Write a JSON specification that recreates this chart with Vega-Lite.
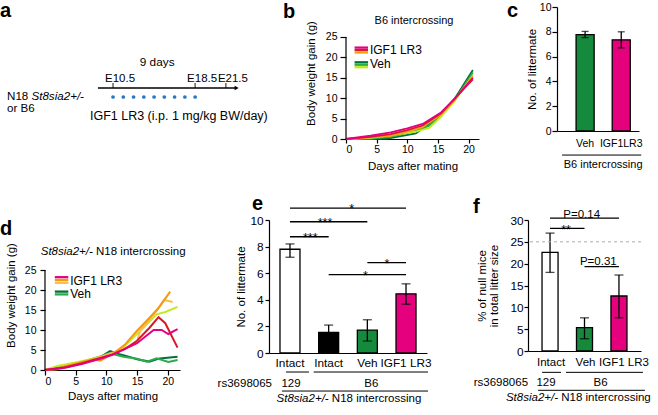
{
"$schema":"https://vega.github.io/schema/vega-lite/v6.json",
"padding":{"left":0,"top":0,"right":0,"bottom":0},
"background":"white",
"config":{
 "font":"Liberation Sans",
 "view":{"stroke":null},
 "axis":{"grid":false,"domainColor":"#000","domainWidth":1.2,"tickColor":"#000","tickWidth":1.2,"labelColor":"#000","titleColor":"#000","titleFontWeight":"normal","labelFont":"Liberation Sans","titleFont":"Liberation Sans","titleFontSize":11.5,"labelFontSize":10.5,"tickSize":5,"labelPadding":2,"labelOverlap":false},
 "title":{"fontSize":20,"fontWeight":"bold","anchor":"start","frame":"group","color":"#000","font":"Liberation Sans"},
 "text":{"color":"#000","font":"Liberation Sans"}
},
"datasets":{
 "one":[{"n":1}],
 "a_marks":[{"label":"E10.5","day":10.5},{"label":"E18.5","day":18.5},{"label":"E21.5","day":21.5}],
 "a_dots":[{"day":10.5},{"day":11.5},{"day":12.5},{"day":13.5},{"day":14.5},{"day":15.5},{"day":16.5},{"day":17.5},{"day":18.5}],
 "b_lines":[
  {"mouse":"V1","day":0,"gain":0},{"mouse":"V1","day":4,"gain":0},{"mouse":"V1","day":6.8,"gain":0.1},{"mouse":"V1","day":11.4,"gain":1.4},{"mouse":"V1","day":13.3,"gain":3.4},{"mouse":"V1","day":15.5,"gain":6.1},{"mouse":"V1","day":17.7,"gain":9.8},{"mouse":"V1","day":20.7,"gain":16.9},
  {"mouse":"V2","day":0,"gain":0},{"mouse":"V2","day":4,"gain":0.1},{"mouse":"V2","day":7.3,"gain":0.5},{"mouse":"V2","day":11.4,"gain":2.0},{"mouse":"V2","day":13.5,"gain":3.2},{"mouse":"V2","day":15.5,"gain":5.9},{"mouse":"V2","day":17.7,"gain":9.5},{"mouse":"V2","day":20.7,"gain":16.3},
  {"mouse":"V3","day":0,"gain":0},{"mouse":"V3","day":4,"gain":0.3},{"mouse":"V3","day":7.3,"gain":0.9},{"mouse":"V3","day":11.4,"gain":1.8},{"mouse":"V3","day":13.6,"gain":2.7},{"mouse":"V3","day":15.5,"gain":5.4},{"mouse":"V3","day":17.7,"gain":9.2},{"mouse":"V3","day":20.7,"gain":15.6},
  {"mouse":"I3","day":0,"gain":0},{"mouse":"I3","day":4,"gain":0.4},{"mouse":"I3","day":7.3,"gain":0.8},{"mouse":"I3","day":10,"gain":1.8},{"mouse":"I3","day":12.5,"gain":2.9},{"mouse":"I3","day":15.5,"gain":6.0},{"mouse":"I3","day":17.7,"gain":9.6},{"mouse":"I3","day":20.7,"gain":15.4},
  {"mouse":"I2","day":0,"gain":0},{"mouse":"I2","day":4,"gain":0.5},{"mouse":"I2","day":7.3,"gain":1.2},{"mouse":"I2","day":10,"gain":2.2},{"mouse":"I2","day":12.5,"gain":3.3},{"mouse":"I2","day":15.5,"gain":6.3},{"mouse":"I2","day":17.7,"gain":9.9},{"mouse":"I2","day":20.7,"gain":14.6},
  {"mouse":"I1","day":0,"gain":0},{"mouse":"I1","day":4,"gain":0.8},{"mouse":"I1","day":7.3,"gain":1.6},{"mouse":"I1","day":10,"gain":2.6},{"mouse":"I1","day":12.5,"gain":3.7},{"mouse":"I1","day":15.5,"gain":6.5},{"mouse":"I1","day":17.7,"gain":9.8},{"mouse":"I1","day":20.7,"gain":15.0}
 ],
 "d_lines":[
  {"mouse":"V1","day":0,"gain":0},{"mouse":"V1","day":3,"gain":0.6},{"mouse":"V1","day":6,"gain":1.8},{"mouse":"V1","day":9,"gain":3.2},{"mouse":"V1","day":10.6,"gain":4.7},{"mouse":"V1","day":12,"gain":4.0},{"mouse":"V1","day":13.5,"gain":3.4},{"mouse":"V1","day":15,"gain":2.7},{"mouse":"V1","day":17,"gain":2.1},{"mouse":"V1","day":18.7,"gain":2.9},{"mouse":"V1","day":21.6,"gain":3.3},
  {"mouse":"V2","day":0,"gain":0},{"mouse":"V2","day":3,"gain":0.8},{"mouse":"V2","day":6,"gain":2.0},{"mouse":"V2","day":9,"gain":3.4},{"mouse":"V2","day":10.5,"gain":4.2},{"mouse":"V2","day":12.8,"gain":3.3},{"mouse":"V2","day":15,"gain":2.8},{"mouse":"V2","day":16.6,"gain":2.1},{"mouse":"V2","day":18.2,"gain":2.9},{"mouse":"V2","day":20.1,"gain":2.0},{"mouse":"V2","day":21.6,"gain":2.5},
  {"mouse":"V3","day":0,"gain":0},{"mouse":"V3","day":2,"gain":1.0},{"mouse":"V3","day":5,"gain":1.9},{"mouse":"V3","day":8,"gain":2.9},{"mouse":"V3","day":10,"gain":3.6},{"mouse":"V3","day":12,"gain":4.6},{"mouse":"V3","day":14,"gain":7.5},{"mouse":"V3","day":16,"gain":10.5},{"mouse":"V3","day":18.2,"gain":13.9},{"mouse":"V3","day":19.6,"gain":14.5},{"mouse":"V3","day":21.6,"gain":15.8},
  {"mouse":"I4","day":0,"gain":0},{"mouse":"I4","day":2,"gain":0.2},{"mouse":"I4","day":4,"gain":0.8},{"mouse":"I4","day":6,"gain":1.8},{"mouse":"I4","day":8,"gain":2.8},{"mouse":"I4","day":10,"gain":3.8},{"mouse":"I4","day":12,"gain":4.8},{"mouse":"I4","day":14,"gain":6.0},{"mouse":"I4","day":15,"gain":7.0},{"mouse":"I4","day":15.5,"gain":9.8},{"mouse":"I4","day":17.9,"gain":14.2},{"mouse":"I4","day":19.4,"gain":17.5},{"mouse":"I4","day":20.8,"gain":17.0},
  {"mouse":"I3","day":0,"gain":0},{"mouse":"I3","day":2,"gain":0.4},{"mouse":"I3","day":4,"gain":1.2},{"mouse":"I3","day":6,"gain":2.0},{"mouse":"I3","day":8,"gain":2.7},{"mouse":"I3","day":9,"gain":2.3},{"mouse":"I3","day":11,"gain":4.0},{"mouse":"I3","day":13,"gain":6.3},{"mouse":"I3","day":15,"gain":9.8},{"mouse":"I3","day":17,"gain":13.0},{"mouse":"I3","day":18.5,"gain":15.5},{"mouse":"I3","day":20.4,"gain":19.6},
  {"mouse":"I2","day":0,"gain":0},{"mouse":"I2","day":3,"gain":0.6},{"mouse":"I2","day":6,"gain":1.7},{"mouse":"I2","day":9,"gain":3.0},{"mouse":"I2","day":11,"gain":3.9},{"mouse":"I2","day":13,"gain":5.2},{"mouse":"I2","day":15,"gain":7.3},{"mouse":"I2","day":17,"gain":10.5},{"mouse":"I2","day":18.5,"gain":13.2},{"mouse":"I2","day":19.6,"gain":11.7},{"mouse":"I2","day":21.6,"gain":5.6},
  {"mouse":"I1","day":0,"gain":0},{"mouse":"I1","day":3,"gain":0.5},{"mouse":"I1","day":6,"gain":1.5},{"mouse":"I1","day":9,"gain":2.8},{"mouse":"I1","day":11,"gain":3.8},{"mouse":"I1","day":13,"gain":5.3},{"mouse":"I1","day":15,"gain":6.7},{"mouse":"I1","day":17.7,"gain":10.0},{"mouse":"I1","day":19,"gain":10.0},{"mouse":"I1","day":20.1,"gain":9.0},{"mouse":"I1","day":21.6,"gain":10.2}
 ],
 "c_bars":[{"cond":"Veh","mean":7.78,"lo":7.53,"hi":8.03},{"cond":"IGF1LR3","mean":7.35,"lo":6.7,"hi":8.0}],
 "e_bars":[{"cond":"Intact 129","mean":7.8,"lo":7.2,"hi":8.2},{"cond":"Intact B6","mean":1.55,"lo":0.9,"hi":2.1},{"cond":"Veh","mean":1.72,"lo":0.9,"hi":2.5},{"cond":"IGF1 LR3","mean":4.45,"lo":3.67,"hi":5.2}],
 "f_bars":[{"cond":"Intact","mean":22.6,"lo":18.0,"hi":27.0},{"cond":"Veh","mean":5.35,"lo":2.8,"hi":7.6},{"cond":"IGF1 LR3","mean":12.6,"lo":7.6,"hi":17.4}],
 "e_sig":[{"from":"Intact 129","to":"IGF1 LR3","h":10.9},{"from":"Intact 129","to":"Veh","h":9.87},{"from":"Intact 129","to":"Intact B6","h":8.74},{"from":"Veh","to":"IGF1 LR3","h":6.8},{"from":"Intact B6","to":"IGF1 LR3","h":5.9}],
 "f_sig":[{"from":"Intact","to":"IGF1 LR3","h":30.45},{"from":"Intact","to":"Veh","h":28.1},{"from":"Veh","to":"IGF1 LR3","h":19.3}]
},
"spacing":22,
"resolve":{"scale":{"x":"independent","y":"independent","color":"independent"},"axis":{"x":"independent","y":"independent"}},
"vconcat":[
 {"spacing":6,"resolve":{"scale":{"x":"independent","y":"independent","color":"independent"},"axis":{"x":"independent","y":"independent"}},"hconcat":[
  {"width":232,"height":116,
   "title":{"text":"a","dx":-45,"offset":-13.5},
   "layer":[
    {"data":{"name":"one"},"mark":{"type":"rule","color":"#000","strokeWidth":1.3},"encoding":{"x":{"datum":9.03,"type":"quantitative","scale":{"domain":[3.87,26.48],"nice":false,"zero":false},"axis":null},"x2":{"datum":22.5},"y":{"datum":3.5,"type":"quantitative","scale":{"domain":[0,11.6],"nice":false},"axis":null}}},
    {"data":{"name":"one"},"mark":{"type":"point","shape":"triangle-right","filled":true,"color":"#000","size":22,"opacity":1},"encoding":{"x":{"datum":22.55,"type":"quantitative","axis":null},"y":{"datum":3.5,"type":"quantitative","axis":null}}},
    {"data":{"name":"a_marks"},"mark":{"type":"tick","orient":"vertical","color":"#000","thickness":1.3,"size":5},"encoding":{"x":{"field":"day","type":"quantitative","axis":null},"y":{"datum":3.75,"type":"quantitative","axis":null}}},
    {"data":{"name":"a_marks"},"mark":{"type":"text","align":"left","dx":-8,"baseline":"middle","fontSize":11.5},"encoding":{"x":{"field":"day","type":"quantitative","axis":null},"y":{"datum":4.45,"type":"quantitative","axis":null},"text":{"field":"label"}}},
    {"data":{"name":"a_dots"},"mark":{"type":"point","filled":true,"color":"#2a78c2","size":14,"opacity":1},"encoding":{"x":{"field":"day","type":"quantitative","axis":null},"y":{"datum":2.6,"type":"quantitative","axis":null}}},
    {"data":{"name":"one"},"mark":{"type":"text","text":"9 days","align":"center","baseline":"middle","fontSize":11.8},"encoding":{"x":{"datum":14.8,"type":"quantitative","axis":null},"y":{"datum":6.1,"type":"quantitative","axis":null}}},
    {"data":{"name":"one"},"mark":{"type":"text","text":"N18","align":"left","baseline":"middle","fontSize":11.6},"encoding":{"x":{"datum":0.17,"type":"quantitative","axis":null},"y":{"datum":2.57,"type":"quantitative","axis":null}}},
    {"data":{"name":"one"},"mark":{"type":"text","text":"St8sia2+/-","fontStyle":"italic","align":"left","baseline":"middle","fontSize":11.6},"encoding":{"x":{"datum":2.55,"type":"quantitative","axis":null},"y":{"datum":2.57,"type":"quantitative","axis":null}}},
    {"data":{"name":"one"},"mark":{"type":"text","text":"or B6","align":"left","baseline":"middle","fontSize":11.6},"encoding":{"x":{"datum":0.17,"type":"quantitative","axis":null},"y":{"datum":1.37,"type":"quantitative","axis":null}}},
    {"data":{"name":"one"},"mark":{"type":"text","text":"IGF1 LR3 (i.p. 1 mg/kg BW/day)","align":"left","baseline":"middle","fontSize":12.5},"encoding":{"x":{"datum":8.25,"type":"quantitative","axis":null},"y":{"datum":0.7,"type":"quantitative","axis":null}}}
   ]},
  {"spacing":28,"resolve":{"scale":{"x":"independent","y":"independent","color":"independent"},"axis":{"x":"independent","y":"independent"}},"hconcat":[
   {"width":133,"height":132,
    "title":{"text":"b","dx":-63,"offset":-14.5},
    "layer":[
     {"data":{"name":"b_lines"},"mark":{"type":"line","strokeWidth":1.8},
      "encoding":{
       "x":{"field":"day","type":"quantitative","scale":{"domain":[0,21.7],"nice":false,"zero":false},"axis":{"values":[0,5,10,15,20],"tickCount":20,"format":"d","title":"Days after mating","tickSize":4,"labelPadding":1,"titlePadding":6}},
       "y":{"field":"gain","type":"quantitative","scale":{"domain":[0,32.35],"nice":false},"axis":{"values":[0,5,10,15,20,25],"tickCount":20,"format":"d","domain":false,"title":"Body weight gain (g)","tickSize":6,"labelPadding":3,"titlePadding":9}},
       "color":{"field":"mouse","type":"nominal","scale":{"domain":["V1","V2","V3","I3","I2","I1"],"range":["#00713a","#2bab4a","#c4ea1f","#f5a00f","#d7192d","#e5007e"]},"legend":null}}},
     {"data":{"name":"one"},"mark":{"type":"rule","color":"#000","strokeWidth":1.2},"encoding":{"x":{"datum":0,"type":"quantitative"},"y":{"datum":0,"type":"quantitative"},"y2":{"datum":25}}},
     {"data":{"name":"one"},"mark":{"type":"text","text":"B6 intercrossing","align":"center","baseline":"middle","fontSize":11},"encoding":{"x":{"datum":11.1,"type":"quantitative"},"y":{"datum":28.8,"type":"quantitative"}}},
     {"data":{"name":"one"},"mark":{"type":"rule","color":"#e5007e","strokeWidth":2.3},"encoding":{"x":{"datum":1.4,"type":"quantitative"},"x2":{"datum":3.6},"y":{"datum":22.4,"type":"quantitative"}}},
     {"data":{"name":"one"},"mark":{"type":"rule","color":"#d7192d","strokeWidth":2.3},"encoding":{"x":{"datum":1.4,"type":"quantitative"},"x2":{"datum":3.6},"y":{"datum":21.8,"type":"quantitative"}}},
     {"data":{"name":"one"},"mark":{"type":"rule","color":"#f5a00f","strokeWidth":2.3},"encoding":{"x":{"datum":1.4,"type":"quantitative"},"x2":{"datum":3.6},"y":{"datum":21.2,"type":"quantitative"}}},
     {"data":{"name":"one"},"mark":{"type":"rule","color":"#00713a","strokeWidth":2.3},"encoding":{"x":{"datum":1.4,"type":"quantitative"},"x2":{"datum":3.6},"y":{"datum":18.8,"type":"quantitative"}}},
     {"data":{"name":"one"},"mark":{"type":"rule","color":"#2bab4a","strokeWidth":2.3},"encoding":{"x":{"datum":1.4,"type":"quantitative"},"x2":{"datum":3.6},"y":{"datum":18.2,"type":"quantitative"}}},
     {"data":{"name":"one"},"mark":{"type":"rule","color":"#c4ea1f","strokeWidth":2.3},"encoding":{"x":{"datum":1.4,"type":"quantitative"},"x2":{"datum":3.6},"y":{"datum":17.6,"type":"quantitative"}}},
     {"data":{"name":"one"},"mark":{"type":"text","text":"IGF1 LR3","align":"left","baseline":"middle","fontSize":12},"encoding":{"x":{"datum":3.9,"type":"quantitative"},"y":{"datum":21.8,"type":"quantitative"}}},
     {"data":{"name":"one"},"mark":{"type":"text","text":"Veh","align":"left","baseline":"middle","fontSize":12},"encoding":{"x":{"datum":3.9,"type":"quantitative"},"y":{"datum":18.4,"type":"quantitative"}}}
    ]},
   {"width":82,"height":124,
    "title":{"text":"c","dx":-50,"offset":-19},
    "layer":[
     {"data":{"name":"c_bars"},"mark":{"type":"bar","stroke":"#000","strokeWidth":1.3},
      "encoding":{
       "x":{"field":"cond","type":"nominal","scale":{"domain":["Veh","IGF1LR3"],"paddingInner":0.5,"paddingOuter":0.385,"align":0.686},"axis":{"title":null,"labelAngle":0,"ticks":false,"tickSize":0,"labelPadding":7,"labelFontSize":10.5}},
       "y":{"field":"mean","type":"quantitative","scale":{"domain":[0,10],"nice":false},"axis":{"values":[0,2,4,6,8,10],"tickCount":20,"format":"d","title":"No. of littermate","tickSize":5,"labelPadding":1,"titlePadding":2}},
       "color":{"field":"cond","type":"nominal","scale":{"domain":["Veh","IGF1LR3"],"range":["#158a3c","#e5007e"]},"legend":null}}},
     {"data":{"name":"c_bars"},"mark":{"type":"rule","color":"#000","strokeWidth":1.3},"encoding":{"x":{"field":"cond","type":"nominal"},"y":{"field":"lo","type":"quantitative"},"y2":{"field":"hi"}}},
     {"data":{"name":"c_bars"},"mark":{"type":"tick","color":"#000","thickness":1.3,"size":7},"encoding":{"x":{"field":"cond","type":"nominal"},"y":{"field":"hi","type":"quantitative"}}},
     {"data":{"name":"c_bars"},"mark":{"type":"tick","color":"#000","thickness":1.3,"size":7},"encoding":{"x":{"field":"cond","type":"nominal"},"y":{"field":"lo","type":"quantitative"}}},
     {"data":{"name":"one"},"mark":{"type":"rule","color":"#000","strokeWidth":1,"xOffset":-23,"x2Offset":20},"encoding":{"x":{"datum":"Veh","type":"nominal"},"x2":{"datum":"IGF1LR3"},"y":{"datum":-1.94,"type":"quantitative"}}},
     {"data":{"name":"one"},"mark":{"type":"text","text":"B6 intercrossing","align":"center","baseline":"middle","fontSize":11,"dx":18},"encoding":{"x":{"datum":"Veh","type":"nominal"},"y":{"datum":-2.74,"type":"quantitative"}}}
    ]}
  ]}
 ]},
 {"spacing":31,"resolve":{"scale":{"x":"independent","y":"independent","color":"independent"},"axis":{"x":"independent","y":"independent"}},"hconcat":[
  {"width":135,"height":150,
   "title":{"text":"d","dx":-45,"offset":-18.5},
   "layer":[
    {"data":{"name":"d_lines"},"mark":{"type":"line","strokeWidth":2},
     "encoding":{
      "x":{"field":"day","type":"quantitative","scale":{"domain":[0,22],"nice":false,"zero":false},"axis":{"values":[0,5,10,15,20],"tickCount":20,"format":"d","title":"Days after mating","tickSize":5,"labelPadding":1,"titlePadding":4}},
      "y":{"field":"gain","type":"quantitative","scale":{"domain":[0,37.5],"nice":false},"axis":{"values":[0,5,10,15,20,25],"tickCount":20,"format":"d","domain":false,"title":"Body weight gain (g)","tickSize":5,"labelPadding":4,"titlePadding":8}},
      "color":{"field":"mouse","type":"nominal","scale":{"domain":["V1","V2","V3","I4","I3","I2","I1"],"range":["#00713a","#2bab4a","#c4ea1f","#f9c04a","#f39a12","#d7192d","#e5007e"]},"legend":null}}},
    {"data":{"name":"one"},"mark":{"type":"rule","color":"#000","strokeWidth":1.2},"encoding":{"x":{"datum":0,"type":"quantitative"},"y":{"datum":0,"type":"quantitative"},"y2":{"datum":25}}},
    {"data":{"name":"one"},"mark":{"type":"text","text":"St8sia2+/-","fontStyle":"italic","align":"right","baseline":"middle","fontSize":11.5},"encoding":{"x":{"datum":7.8,"type":"quantitative"},"y":{"datum":29.6,"type":"quantitative"}}},
    {"data":{"name":"one"},"mark":{"type":"text","text":"N18 intercrossing","align":"left","baseline":"middle","fontSize":11.5,"dx":3.2},"encoding":{"x":{"datum":7.8,"type":"quantitative"},"y":{"datum":29.6,"type":"quantitative"}}},
    {"data":{"name":"one"},"mark":{"type":"rule","color":"#e5007e","strokeWidth":2.3},"encoding":{"x":{"datum":1.6,"type":"quantitative"},"x2":{"datum":3.8},"y":{"datum":23.2,"type":"quantitative"}}},
    {"data":{"name":"one"},"mark":{"type":"rule","color":"#f39a12","strokeWidth":2.3},"encoding":{"x":{"datum":1.6,"type":"quantitative"},"x2":{"datum":3.8},"y":{"datum":22.5,"type":"quantitative"}}},
    {"data":{"name":"one"},"mark":{"type":"rule","color":"#f9c04a","strokeWidth":2.3},"encoding":{"x":{"datum":1.6,"type":"quantitative"},"x2":{"datum":3.8},"y":{"datum":21.8,"type":"quantitative"}}},
    {"data":{"name":"one"},"mark":{"type":"rule","color":"#00713a","strokeWidth":2.3},"encoding":{"x":{"datum":1.6,"type":"quantitative"},"x2":{"datum":3.8},"y":{"datum":19.6,"type":"quantitative"}}},
    {"data":{"name":"one"},"mark":{"type":"rule","color":"#2bab4a","strokeWidth":2.3},"encoding":{"x":{"datum":1.6,"type":"quantitative"},"x2":{"datum":3.8},"y":{"datum":18.9,"type":"quantitative"}}},
    {"data":{"name":"one"},"mark":{"type":"text","text":"IGF1 LR3","align":"left","baseline":"middle","fontSize":12},"encoding":{"x":{"datum":4.1,"type":"quantitative"},"y":{"datum":22.2,"type":"quantitative"}}},
    {"data":{"name":"one"},"mark":{"type":"text","text":"Veh","align":"left","baseline":"middle","fontSize":12},"encoding":{"x":{"datum":4.1,"type":"quantitative"},"y":{"datum":19.0,"type":"quantitative"}}}
   ]},
  {"spacing":41,"resolve":{"scale":{"x":"independent","y":"independent","color":"independent"},"axis":{"x":"independent","y":"independent"}},"hconcat":[
   {"width":158,"height":133,
    "title":{"text":"e","dx":-17,"offset":-11},
    "layer":[
     {"data":{"name":"e_bars"},"mark":{"type":"bar","stroke":"#000","strokeWidth":1.3},
      "encoding":{
       "x":{"field":"cond","type":"nominal","scale":{"domain":["Intact 129","Intact B6","Veh","IGF1 LR3"],"paddingInner":0.483,"paddingOuter":0.284},"axis":{"title":null,"labelAngle":0,"ticks":false,"tickSize":0,"labelPadding":4,"labelFontSize":11.8,"labelExpr":"indexof(datum.value,'Intact')==0 ? 'Intact' : datum.value"}},
       "y":{"field":"mean","type":"quantitative","scale":{"domain":[0,10],"nice":false},"axis":{"values":[0,2,4,6,8,10],"tickCount":20,"format":"d","title":"No. of littermate","tickSize":4,"labelPadding":2,"titlePadding":3,"labelFontSize":11.8}},
       "color":{"field":"cond","type":"nominal","scale":{"domain":["Intact 129","Intact B6","Veh","IGF1 LR3"],"range":["#ffffff","#000000","#158a3c","#e5007e"]},"legend":null}}},
     {"data":{"name":"e_bars"},"mark":{"type":"rule","color":"#000","strokeWidth":1.3},"encoding":{"x":{"field":"cond","type":"nominal"},"y":{"field":"lo","type":"quantitative"},"y2":{"field":"hi"}}},
     {"data":{"name":"e_bars"},"mark":{"type":"tick","color":"#000","thickness":1.3,"size":9},"encoding":{"x":{"field":"cond","type":"nominal"},"y":{"field":"hi","type":"quantitative"}}},
     {"data":{"name":"e_bars"},"mark":{"type":"tick","color":"#000","thickness":1.3,"size":9},"encoding":{"x":{"field":"cond","type":"nominal"},"y":{"field":"lo","type":"quantitative"}}},
     {"data":{"name":"e_sig"},"mark":{"type":"rule","color":"#000","strokeWidth":1.3},"encoding":{"x":{"field":"from","type":"nominal"},"x2":{"field":"to"},"y":{"field":"h","type":"quantitative"}}},
     {"data":{"name":"one"},"mark":{"type":"text","text":"*","align":"center","fontSize":12.5,"dx":-15.6,"dy":1},"encoding":{"x":{"datum":"Veh","type":"nominal"},"y":{"datum":10.9,"type":"quantitative"}}},
     {"data":{"name":"one"},"mark":{"type":"text","text":"***","align":"center","fontSize":12.5,"dx":-3.7,"dy":1},"encoding":{"x":{"datum":"Intact B6","type":"nominal"},"y":{"datum":9.87,"type":"quantitative"}}},
     {"data":{"name":"one"},"mark":{"type":"text","text":"***","align":"center","fontSize":12.5,"dx":20.3,"dy":1},"encoding":{"x":{"datum":"Intact 129","type":"nominal"},"y":{"datum":8.74,"type":"quantitative"}}},
     {"data":{"name":"one"},"mark":{"type":"text","text":"*","align":"center","fontSize":12.5,"dx":19.7,"dy":1},"encoding":{"x":{"datum":"Veh","type":"nominal"},"y":{"datum":6.8,"type":"quantitative"}}},
     {"data":{"name":"one"},"mark":{"type":"text","text":"*","align":"center","fontSize":12.5,"dx":-2,"dy":1},"encoding":{"x":{"datum":"Veh","type":"nominal"},"y":{"datum":5.9,"type":"quantitative"}}},
     {"data":{"name":"one"},"mark":{"type":"rule","color":"#000","strokeWidth":1,"xOffset":-4,"x2Offset":19},"encoding":{"x":{"datum":"Intact 129","type":"nominal"},"x2":{"datum":"Intact 129"},"y":{"datum":-1.43,"type":"quantitative"}}},
     {"data":{"name":"one"},"mark":{"type":"rule","color":"#000","strokeWidth":1,"xOffset":-15,"x2Offset":22},"encoding":{"x":{"datum":"Intact B6","type":"nominal"},"x2":{"datum":"IGF1 LR3"},"y":{"datum":-1.43,"type":"quantitative"}}},
     {"data":{"name":"one"},"mark":{"type":"rule","color":"#000","strokeWidth":1,"xOffset":-8,"x2Offset":22},"encoding":{"x":{"datum":"Intact 129","type":"nominal"},"x2":{"datum":"IGF1 LR3"},"y":{"datum":-2.86,"type":"quantitative"}}},
     {"data":{"name":"one"},"mark":{"type":"text","text":"rs3698065","align":"right","baseline":"middle","fontSize":11.5,"dx":-18},"encoding":{"x":{"datum":"Intact 129","type":"nominal"},"y":{"datum":-2.3,"type":"quantitative"}}},
     {"data":{"name":"one"},"mark":{"type":"text","text":"129","align":"center","baseline":"middle","fontSize":11.5,"dx":1},"encoding":{"x":{"datum":"Intact 129","type":"nominal"},"y":{"datum":-2.3,"type":"quantitative"}}},
     {"data":{"name":"one"},"mark":{"type":"text","text":"B6","align":"center","baseline":"middle","fontSize":11.5,"dx":4},"encoding":{"x":{"datum":"Veh","type":"nominal"},"y":{"datum":-2.3,"type":"quantitative"}}},
     {"data":{"name":"one"},"mark":{"type":"text","text":"St8sia2+/-","fontStyle":"italic","align":"right","baseline":"middle","fontSize":11.5},"encoding":{"x":{"datum":"Intact B6","type":"nominal"},"y":{"datum":-3.47,"type":"quantitative"}}},
     {"data":{"name":"one"},"mark":{"type":"text","text":"N18 intercrossing","align":"left","baseline":"middle","fontSize":11.5,"dx":3.2},"encoding":{"x":{"datum":"Intact B6","type":"nominal"},"y":{"datum":-3.47,"type":"quantitative"}}}
    ]},
   {"width":113,"height":131,
    "title":{"text":"f","dx":-55,"offset":-8},
    "layer":[
     {"data":{"name":"f_bars"},"mark":{"type":"bar","stroke":"#000","strokeWidth":1.3},
      "encoding":{
       "x":{"field":"cond","type":"nominal","scale":{"domain":["Intact","Veh","IGF1 LR3"],"paddingInner":0.535,"paddingOuter":0.407},"axis":{"title":null,"labelAngle":0,"ticks":false,"tickSize":0,"labelPadding":5,"labelFontSize":11.5,"labelOffset":{"condition":{"test":"datum.value == 'IGF1 LR3'","value":5},"value":1}}},
       "y":{"field":"mean","type":"quantitative","scale":{"domain":[0,30],"nice":false},"axis":{"values":[0,5,10,15,20,25,30],"tickCount":20,"format":"d","title":["% of null mice","in total litter size"],"titleLineHeight":12,"tickSize":4,"labelPadding":1,"titlePadding":10,"labelFontSize":11.8}},
       "color":{"field":"cond","type":"nominal","scale":{"domain":["Intact","Veh","IGF1 LR3"],"range":["#ffffff","#158a3c","#e5007e"]},"legend":null}}},
     {"data":{"name":"f_bars"},"mark":{"type":"rule","color":"#000","strokeWidth":1.3},"encoding":{"x":{"field":"cond","type":"nominal"},"y":{"field":"lo","type":"quantitative"},"y2":{"field":"hi"}}},
     {"data":{"name":"f_bars"},"mark":{"type":"tick","color":"#000","thickness":1.3,"size":9},"encoding":{"x":{"field":"cond","type":"nominal"},"y":{"field":"hi","type":"quantitative"}}},
     {"data":{"name":"f_bars"},"mark":{"type":"tick","color":"#000","thickness":1.3,"size":9},"encoding":{"x":{"field":"cond","type":"nominal"},"y":{"field":"lo","type":"quantitative"}}},
     {"data":{"name":"one"},"mark":{"type":"rule","color":"#aaaaaa","strokeWidth":1,"strokeDash":[3,3]},"encoding":{"y":{"datum":25,"type":"quantitative"}}},
     {"data":{"name":"f_sig"},"mark":{"type":"rule","color":"#000","strokeWidth":1.3},"encoding":{"x":{"field":"from","type":"nominal"},"x2":{"field":"to"},"y":{"field":"h","type":"quantitative"}}},
     {"data":{"name":"one"},"mark":{"type":"text","text":"P=0.14","align":"center","fontSize":11.5,"dx":-2.8,"dy":-3.2},"encoding":{"x":{"datum":"Veh","type":"nominal"},"y":{"datum":30.45,"type":"quantitative"}}},
     {"data":{"name":"one"},"mark":{"type":"text","text":"**","align":"center","fontSize":12.5,"dx":16,"dy":2.2},"encoding":{"x":{"datum":"Intact","type":"nominal"},"y":{"datum":28.1,"type":"quantitative"}}},
     {"data":{"name":"one"},"mark":{"type":"text","text":"P=0.31","align":"center","fontSize":11.5,"dx":13.8,"dy":-4.3},"encoding":{"x":{"datum":"Veh","type":"nominal"},"y":{"datum":19.3,"type":"quantitative"}}},
     {"data":{"name":"one"},"mark":{"type":"rule","color":"#000","strokeWidth":1,"xOffset":-8,"x2Offset":11},"encoding":{"x":{"datum":"Intact","type":"nominal"},"x2":{"datum":"Intact"},"y":{"datum":-4.89,"type":"quantitative"}}},
     {"data":{"name":"one"},"mark":{"type":"rule","color":"#000","strokeWidth":1,"xOffset":-18.5,"x2Offset":24},"encoding":{"x":{"datum":"Veh","type":"nominal"},"x2":{"datum":"IGF1 LR3"},"y":{"datum":-4.89,"type":"quantitative"}}},
     {"data":{"name":"one"},"mark":{"type":"rule","color":"#000","strokeWidth":1,"xOffset":-12,"x2Offset":26},"encoding":{"x":{"datum":"Intact","type":"nominal"},"x2":{"datum":"IGF1 LR3"},"y":{"datum":-9.0,"type":"quantitative"}}},
     {"data":{"name":"one"},"mark":{"type":"text","text":"rs3698065","align":"right","baseline":"middle","fontSize":11.5,"dx":-22},"encoding":{"x":{"datum":"Intact","type":"nominal"},"y":{"datum":-7.23,"type":"quantitative"}}},
     {"data":{"name":"one"},"mark":{"type":"text","text":"129","align":"center","baseline":"middle","fontSize":11.5,"dx":-4},"encoding":{"x":{"datum":"Intact","type":"nominal"},"y":{"datum":-7.23,"type":"quantitative"}}},
     {"data":{"name":"one"},"mark":{"type":"text","text":"B6","align":"center","baseline":"middle","fontSize":11.5,"dx":16},"encoding":{"x":{"datum":"Veh","type":"nominal"},"y":{"datum":-7.23,"type":"quantitative"}}},
     {"data":{"name":"one"},"mark":{"type":"text","text":"St8sia2+/-","fontStyle":"italic","align":"right","baseline":"middle","fontSize":11.5,"dx":8},"encoding":{"x":{"datum":"Intact","type":"nominal"},"y":{"datum":-10.86,"type":"quantitative"}}},
     {"data":{"name":"one"},"mark":{"type":"text","text":"N18 intercrossing","align":"left","baseline":"middle","fontSize":11.5,"dx":11.2},"encoding":{"x":{"datum":"Intact","type":"nominal"},"y":{"datum":-10.86,"type":"quantitative"}}}
    ]}
  ]}
 ]}
]
}
